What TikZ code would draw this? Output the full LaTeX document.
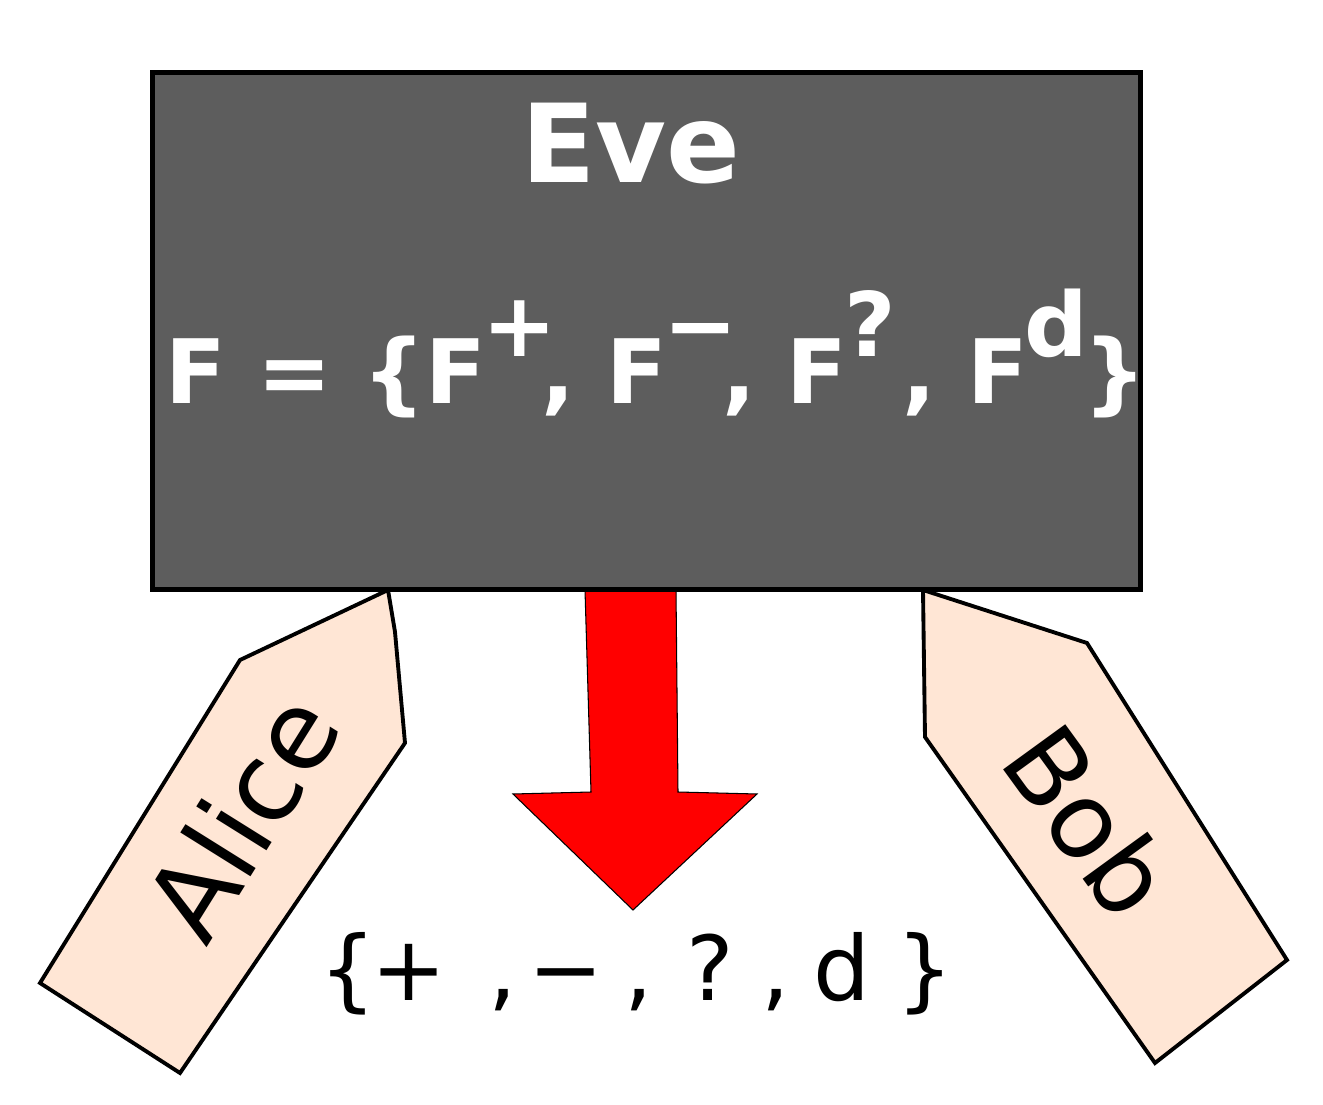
\documentclass[tikz,border=0pt]{standalone}
\usepackage{fontspec}
\setmainfont{DejaVu Sans}
\usetikzlibrary{positioning}
\definecolor{evegray}{HTML}{5D5D5D}
\definecolor{tagpeach}{HTML}{FFE6D5}
\newcommand{\raisedmark}[1]{\makebox[0.62em][l]{\hspace{-0.04em}\raisebox{0.52em}{#1}}}
\tikzset{
	tagshape/.style={draw=black,line width=2.2pt,fill=tagpeach,line join=miter},
	tagtext/.style={inner sep=0pt,anchor=base west},
	evetext/.style={inner sep=0pt,text=white,font=\bfseries}
}
\begin{document}
\begin{tikzpicture}[x=0.02cm,y=-0.02cm]
		\useasboundingbox (0,0) rectangle (1323,1105);
		\draw[tagshape] (388,590) -- (395,632) -- (405,743) -- (180,1073) -- (40,983) -- (240,660) -- cycle;
		\draw[tagshape] (923,590) -- (1087,643) -- (1287,960) -- (1155,1063) -- (925,737) -- cycle;
		\filldraw[fill=red,draw=black,line width=0.6pt] (585,590) -- (591,792) -- (513,794) -- (633,910) -- (757,794) -- (678,792) -- (676,590) -- cycle;
		\node[draw=black,line width=3pt,fill=evegray,inner sep=0pt,anchor=north west,minimum width=19.76cm,minimum height=10.34cm] (eve) at (150,70) {};
		\node[evetext,anchor=base,font=\bfseries\fontsize{62}{62}\selectfont] (evename) at (631,183) {Eve};
		\node[evetext,anchor=base west,font=\bfseries\fontsize{50.6}{50.6}\selectfont] (family) at (165,403) {F = \{F\raisedmark{+}, F\raisedmark{−}, F\raisedmark{?}, F\raisedmark{d}\}};
		\node[tagtext,rotate=58,font=\fontsize{62}{62}\selectfont] (alice) at (206,949) {Alice};
		\node[tagtext,rotate=-54,font=\fontsize{60}{60}\selectfont] (bob) at (997,761) {Bob};
		\node[inner sep=0pt,anchor=base west,font=\fontsize{51}{51}\selectfont] (alphabet) at (319,1000) {\{\hspace{-0.05em}+\hspace{0.46em},\hspace{0.13em}−\hspace{0.24em},\hspace{0.37em}?\hspace{0.3em},\hspace{0.27em}d\hspace{0.29em}\}};
	\end{tikzpicture}
\end{document}
